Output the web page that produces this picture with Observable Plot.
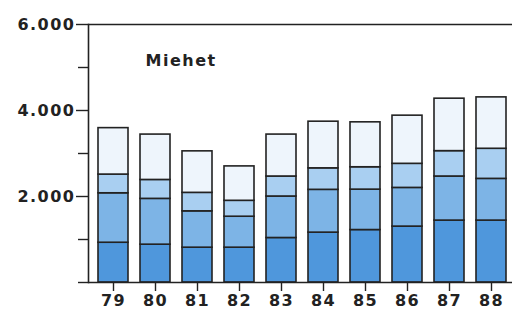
<!DOCTYPE html>
<html>
<head>
<meta charset="utf-8">
<script src="https://cdn.jsdelivr.net/npm/d3@7"></script>
<script src="https://cdn.jsdelivr.net/npm/@observablehq/plot@0.6"></script>
<style>
  html, body { margin: 0; padding: 0; background: #fff; }
  svg text { letter-spacing: 1.5px; }
</style>
</head>
<body>
<div id="chart"></div>
<script>
const years = ["79", "80", "81", "82", "83", "84", "85", "86", "87", "88"];
const segments = ["s1", "s2", "s3", "s4"];
const s1 = [925, 880, 810, 810, 1035, 1160, 1220, 1300, 1440, 1440];
const s2 = [1150, 1065, 845, 720, 965, 995, 940, 900, 1025, 970];
const s3 = [435, 440, 430, 370, 465, 500, 520, 560, 590, 700];
const s4 = [1080, 1055, 965, 800, 975, 1085, 1045, 1120, 1220, 1195];
const majorTicks = [2000, 4000, 6000];
const minorTicks = [0, 1000, 3000, 5000];
const title = "Miehet";
const colors = ["#4f97dc", "#7db4e6", "#a9cff1", "#eef5fc"];

const series = [s1, s2, s3, s4];
const data = [];
years.forEach((y, i) => {
  segments.forEach((s, j) => data.push({year: y, seg: s, value: series[j][i]}));
});

const fmt = d => d3.format(",")(d).replace(/,/g, ".");

const chart = Plot.plot({
  width: 512,
  height: 311,
  marginTop: 24,
  marginBottom: 29,
  marginLeft: 88,
  marginRight: -3,
  style: {fontFamily: "DejaVu Sans", color: "#222", background: "#fff"},
  x: {domain: years, paddingInner: 0.295, paddingOuter: 0.165, label: null},
  y: {domain: [0, 6000], label: null},
  color: {domain: segments, range: colors},
  marks: [
    Plot.barY(data, {x: "year", y: "value", fill: "seg", stroke: "#222", strokeWidth: 1.6}),
    Plot.ruleY([0], {stroke: "#222", strokeWidth: 1.6}),
    Plot.ruleY([6000], {stroke: "#222", strokeWidth: 1.6}),
    Plot.frame({anchor: "left", stroke: "#222", strokeWidth: 1.6}),
    Plot.axisY({ticks: majorTicks, tickSize: 12, tickPadding: 1, tickFormat: fmt,
      fontSize: 16, fontWeight: "bold", stroke: "#222", strokeWidth: 1.4, label: null}),
    Plot.axisY({ticks: minorTicks, tickSize: 10, tickFormat: () => "", stroke: "#222", strokeWidth: 1.4, label: null}),
    Plot.axisX({tickSize: 9, tickPadding: 3, fontSize: 16, fontWeight: "bold", stroke: "#222", strokeWidth: 1.4, label: null}),
    Plot.text([title], {frameAnchor: "top-left", dx: 57, dy: 36, textAnchor: "start", lineAnchor: "middle",
      fontSize: 16, fontWeight: "bold", fill: "#222"})
  ]
});
document.getElementById("chart").appendChild(chart);
</script>
</body>
</html>
